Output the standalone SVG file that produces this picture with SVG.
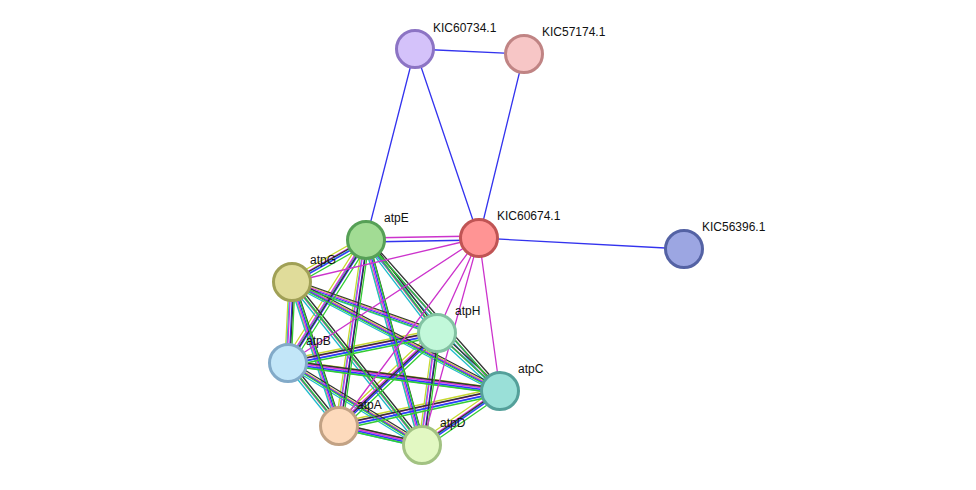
<svg xmlns="http://www.w3.org/2000/svg" xmlns:xlink="http://www.w3.org/1999/xlink" width="976" height="490" viewBox="0 0 976 490">
<style>
.n{stroke-width:3}
text{font-family:"Liberation Sans",Arial,sans-serif;font-size:12px;fill:#111}
.e{fill:none;stroke-width:1.3}
</style>
<defs>
<path id="k" d="M366 240L292 282M366 240L437 333M366 240L288 363M366 240L500 391M366 240L339 426M366 240L422 445M292 282L437 333M292 282L288 363M292 282L500 391M292 282L339 426M292 282L422 445M437 333L288 363M437 333L500 391M437 333L339 426M437 333L422 445M288 363L500 391M288 363L339 426M288 363L422 445M500 391L339 426M500 391L422 445M339 426L422 445"/>
</defs>
<rect width="976" height="490" fill="#fff"/>
<g id="connectors">
<use xlink:href="#k" class="e" stroke="#c8d830" transform="translate(-3,-3)"/>
<use xlink:href="#k" class="e" stroke="#22bbcc" transform="translate(-2,2)"/>
<use xlink:href="#k" class="e" stroke="#dd33dd" transform="translate(-1,-1)"/>
<use xlink:href="#k" class="e" stroke="#3333ff" transform="translate(1,1)"/>
<use xlink:href="#k" class="e" stroke="#333333" transform="translate(2,-2)"/>
<use xlink:href="#k" class="e" stroke="#33cc33" transform="translate(3,3)"/>
<g class="e" stroke="#cc33cc">
<path d="M479 238L292 282M479 238L437 333M479 238L288 363M479 238L500 391M479 238L339 426M479 238L422 445M479 236L366 238"/>
</g>
<g class="e" stroke="#3333ee">
<path d="M415 49L524 54M415 49L366 240M415 49L479 238M524 54L479 238M479 238L684 249M479 240L366 242"/>
</g>
</g>
<g id="KIC60734.1"><circle class="n" cx="415" cy="49" r="18.5" fill="#d4c2fa" stroke="#8c74c4"/><text x="433" y="32">KIC60734.1</text></g>
<g id="KIC57174.1"><circle class="n" cx="524" cy="54" r="18.5" fill="#f7c6c6" stroke="#c08484"/><text x="542" y="36">KIC57174.1</text></g>
<g id="KIC60674.1"><circle class="n" cx="479" cy="238" r="18.5" fill="#ff9494" stroke="#c05454"/><text x="497" y="220">KIC60674.1</text></g>
<g id="KIC56396.1"><circle class="n" cx="684" cy="249" r="18.5" fill="#9ca6e2" stroke="#5462a4"/><text x="702" y="231">KIC56396.1</text></g>
<g id="atpE"><circle class="n" cx="366" cy="240" r="18.5" fill="#a2dc94" stroke="#56a056"/><text x="384" y="222">atpE</text></g>
<g id="atpG"><circle class="n" cx="292" cy="282" r="18.5" fill="#e0dc9a" stroke="#a0a056"/><text x="310" y="264">atpG</text></g>
<g id="atpH"><circle class="n" cx="437" cy="333" r="18.5" fill="#c2f8da" stroke="#82c2a2"/><text x="455" y="315">atpH</text></g>
<g id="atpB"><circle class="n" cx="288" cy="363" r="18.5" fill="#c2e6f8" stroke="#82aac8"/><text x="306" y="345">atpB</text></g>
<g id="atpC"><circle class="n" cx="500" cy="391" r="18.5" fill="#9ae0d8" stroke="#54a09a"/><text x="518" y="373">atpC</text></g>
<g id="atpA"><circle class="n" cx="339" cy="426" r="18.5" fill="#fddabc" stroke="#c2a284"/><text x="357" y="409">atpA</text></g>
<g id="atpD"><circle class="n" cx="422" cy="445" r="18.5" fill="#e2f8c2" stroke="#a2c282"/><text x="440" y="427">atpD</text></g>
</svg>
